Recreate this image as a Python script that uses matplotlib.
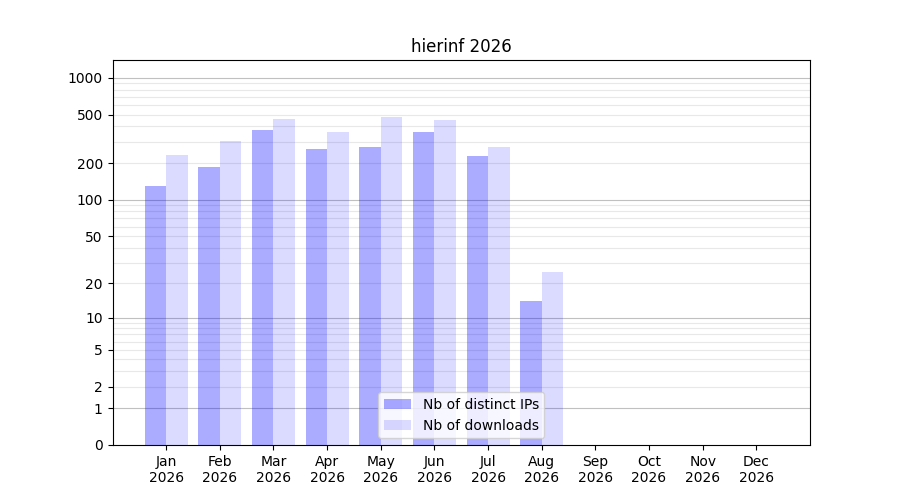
import matplotlib
matplotlib.use("Agg")
import matplotlib.pyplot as plt
import numpy as np

months = ["Jan", "Feb", "Mar", "Apr", "May", "Jun", "Jul", "Aug", "Sep", "Oct", "Nov", "Dec"]
year = 2026
distinct_ips = [131, 187, 376, 262, 272, 361, 230, 14, 0, 0, 0, 0]
downloads = [234, 305, 462, 361, 480, 453, 272, 25, 0, 0, 0, 0]

x = np.arange(1, len(months) + 1)

fig, ax = plt.subplots(figsize=(9, 5), dpi=100)

ax.set_yscale("function", functions=(lambda v: np.log10(1 + np.maximum(v, 0)),
                                     lambda v: 10 ** v - 1))

# grid: darker at decades, lighter in between
for p in range(0, 3):
    for m in range(2, 10):
        ax.axhline(m * 10 ** p, color="#e8e8e8", lw=0.8, zorder=0)
for v in [1, 10, 100, 1000]:
    ax.axhline(v, color="#c0c0c0", lw=0.8, zorder=0)

ax.bar(x, distinct_ips, width=-0.4, align="edge", color="blue", alpha=0.33,
       label="Nb of distinct IPs", zorder=1)
ax.bar(x, downloads, width=0.4, align="edge", color="blue", alpha=0.14,
       label="Nb of downloads", zorder=1)

yt = [0, 1, 2, 5, 10, 20, 50, 100, 200, 500, 1000]
ax.set_yticks(yt)
ax.set_yticklabels([str(v) for v in yt])
ax.minorticks_off()
ax.set_ylim(0, 1400)
ax.set_xlim(0, 13)
ax.set_xticks(x)
ax.set_xticklabels([f"{m}\n{year}" for m in months])
ax.set_title(f"hierinf {year}")
ax.legend(loc="lower center")

fig.savefig("out.png")
